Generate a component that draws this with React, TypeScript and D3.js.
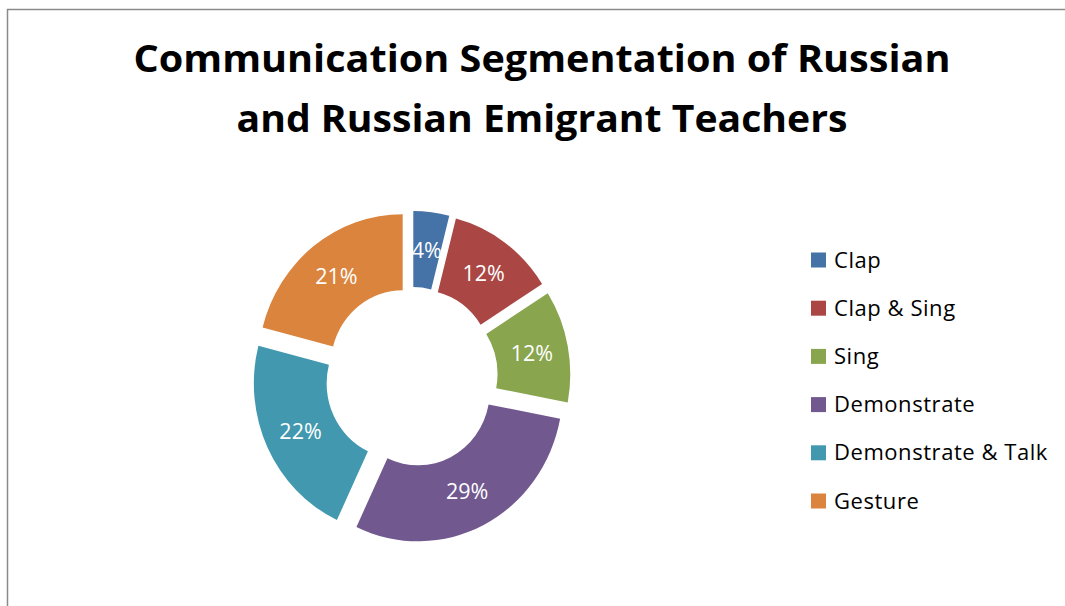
import React from "react";
import * as d3 from "d3";

const categories = ["Clap", "Clap & Sing", "Sing", "Demonstrate", "Demonstrate & Talk", "Gesture"];
const values = [4, 12, 12, 29, 22, 21];
const colors = ["#4572A7", "#AA4643", "#89A54E", "#71588F", "#4198AF", "#DB843D"];
const titleLines = ["Communication Segmentation of Russian", "and Russian Emigrant Teachers"];

const W = 1065;
const H = 606;
const cx = 411.5;
const cy = 377;
const kx = 0.958;
const outerR = 151;
const innerR = 75;
const explode = 15;
const FONT = "'Open Sans', 'Noto Sans', sans-serif";

export default function App() {
  const total = d3.sum(values);
  const pie = d3
    .pie<number>()
    .sort(null)
    .value((d) => d)
    .startAngle(0)
    .endAngle(2 * Math.PI);
  const arcs = pie(values);
  const arc = d3.arc<d3.PieArcDatum<number>>().innerRadius(innerR).outerRadius(outerR);
  const fmt = (v: number) => `${Math.round((v / total) * 100)}%`;
  const legendY = d3.scalePoint<string>().domain(categories).range([260, 501]);

  return (
    <svg
      width={W}
      height={H}
      style={{ position: "absolute", left: 0, top: 0, display: "block", background: "#fff" }}
    >
      <rect x={7.5} y={9.5} width={1200} height={800} fill="#fff" stroke="#8a8a8a" strokeWidth={1.5} />
      {titleLines.map((t, i) => (
        <text
          key={i}
          x={542}
          y={72 + i * 60}
          textAnchor="middle"
          fontFamily={FONT}
          fontWeight="bold"
          fontSize={38}
          fill="#000"
          textLength={i === 0 ? 817 : 611}
          lengthAdjust="spacingAndGlyphs"
        >
          {t}
        </text>
      ))}
      {arcs.map((a, i) => {
        const mid = (a.startAngle + a.endAngle) / 2;
        const dx = Math.sin(mid) * explode;
        const dy = -Math.cos(mid) * explode;
        return (
          <g key={i} transform={`translate(${cx},${cy}) scale(${kx},1) translate(${dx},${dy})`}>
            <path d={arc(a) || ""} fill={colors[i]} />
          </g>
        );
      })}
      {arcs.map((a, i) => {
        const mid = (a.startAngle + a.endAngle) / 2;
        const rr = (innerR + outerR) / 2 + explode;
        const x = cx + kx * Math.sin(mid) * rr;
        const y = cy - Math.cos(mid) * rr;
        return (
          <text
            key={i}
            x={x}
            y={y}
            dy="0.36em"
            textAnchor="middle"
            fontFamily={FONT}
            fontSize={21.5}
            fill="#fff"
          >
            {fmt(values[i])}
          </text>
        );
      })}
      {categories.map((c, i) => {
        const y = legendY(c) as number;
        return (
          <g key={c}>
            <rect x={811} y={y - 7.5} width={15} height={15} fill={colors[i]} />
            <text
              x={834}
              y={y + 7.5}
              fontFamily={FONT}
              fontSize={22}
              letterSpacing={0.55}
              fill="#000"
            >
              {c}
            </text>
          </g>
        );
      })}
    </svg>
  );
}
